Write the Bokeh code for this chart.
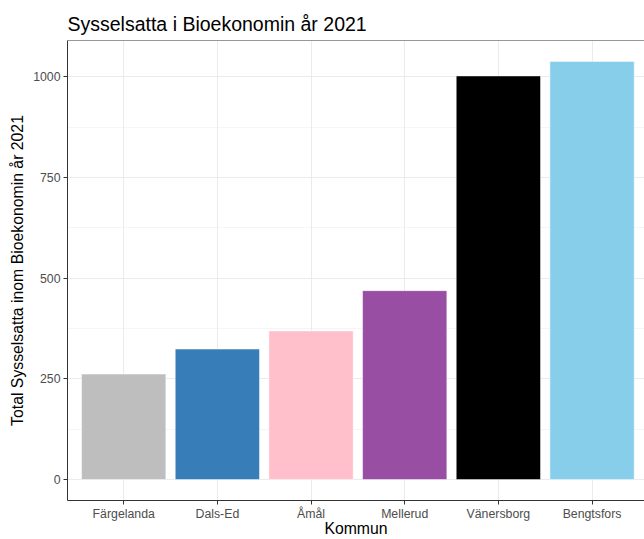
from bokeh.plotting import figure
from bokeh.models import Range1d, FixedTicker, Span, ColumnDataSource
from bokeh.embed import file_html
from bokeh.resources import INLINE

# ---- data ----
kommuner = ["Färgelanda", "Dals-Ed", "Åmål", "Mellerud", "Vänersborg", "Bengtsfors"]
sysselsatta = [262, 324, 369, 469, 1002, 1038]
farger = ["#BEBEBE", "#377EB8", "#FFC0CB", "#984EA3", "#000000", "#87CEEB"]
y_ticks = [0, 250, 500, 750, 1000]
y_minor = [125, 375, 625, 875]
titel = "Sysselsatta i Bioekonomin år 2021"
x_titel = "Kommun"
y_titel = "Total Sysselsatta inom Bioekonomin år 2021"

FONT = "Liberation Sans"

xpos = list(range(1, len(kommuner) + 1))
src = ColumnDataSource(dict(x=xpos, top=sysselsatta, color=farger, name=kommuner))

ymax = max(sysselsatta)
pad = 0.05 * ymax

p = figure(width=644, height=539, output_backend="svg", toolbar_location=None,
           x_range=Range1d(0.4, 6.56), y_range=Range1d(-pad, ymax + pad),
           min_border_left=67, min_border_right=0, min_border_bottom=39,
           min_border_top=40)
p.background_fill_color = "white"
p.border_fill_color = "white"
p.outline_line_color = None

p.vbar(x="x", top="top", bottom=0, width=0.9, fill_color="color",
       line_color="white", line_width=0.5, source=src)

# title
p.title.text = titel
p.title.text_font = FONT
p.title.text_font_size = "19.5px"
p.title.text_font_style = "normal"
p.title.text_color = "black"
p.title.align = "left"
p.title.standoff = 12

# axes
p.xaxis.ticker = FixedTicker(ticks=xpos)
p.xaxis.major_label_overrides = {i: k for i, k in zip(xpos, kommuner)}
p.yaxis.ticker = FixedTicker(ticks=y_ticks, minor_ticks=y_minor)
p.xaxis.axis_label = x_titel
p.yaxis.axis_label = y_titel
for ax in (p.xaxis[0], p.yaxis[0]):
    ax.axis_line_color = "#333333"
    ax.axis_line_width = 1
    ax.major_tick_line_color = "#333333"
    ax.major_tick_in = 0
    ax.major_tick_out = 4
    ax.minor_tick_line_color = None
    ax.major_label_text_font = FONT
    ax.major_label_text_font_size = "12.3px"
    ax.major_label_text_color = "#4D4D4D"
    ax.major_label_standoff = 3
    ax.axis_label_text_font = FONT
    ax.axis_label_text_font_size = "15.8px"
    ax.axis_label_text_font_style = "normal"
    ax.axis_label_text_color = "black"
    ax.axis_label_standoff = 4
p.xaxis.major_label_standoff = 2
p.xaxis.axis_label_standoff = -4

# grid
p.xgrid.ticker = FixedTicker(ticks=xpos)
p.ygrid.ticker = FixedTicker(ticks=y_ticks, minor_ticks=y_minor)
for g in (p.xgrid[0], p.ygrid[0]):
    g.grid_line_color = "#EBEBEB"
    g.grid_line_width = 1
p.ygrid.minor_grid_line_color = "#EBEBEB"
p.ygrid.minor_grid_line_width = 0.5

# top border of panel
p.add_layout(Span(location=ymax + pad, dimension="width",
                  line_color="#333333", line_width=1))

open("out.html", "w").write(file_html(p, INLINE))
